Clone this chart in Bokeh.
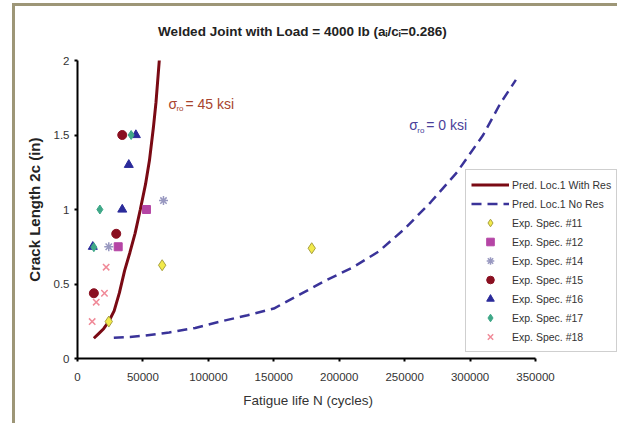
from bokeh.plotting import figure
from bokeh.models import Legend, LegendItem, Label, FixedTicker, BasicTickFormatter
from bokeh.embed import file_html
from bokeh.resources import INLINE

# Predicted curves
with_res_N = [12500, 16000, 20000, 24000, 28000, 32000, 36000, 40000, 44000, 48000, 52000, 55000, 58000, 60000, 62500]
with_res_a = [0.136, 0.165, 0.20, 0.25, 0.32, 0.44, 0.59, 0.71, 0.84, 1.00, 1.17, 1.33, 1.55, 1.72, 2.00]

no_res_N = [27750, 40000, 50000, 70000, 90000, 110000, 130000, 150000, 170000, 190000, 210000,
            230000, 250000, 270000, 290000, 310000, 323000, 335000]
no_res_a = [0.139, 0.145, 0.152, 0.175, 0.205, 0.25, 0.29, 0.335, 0.43, 0.525, 0.61,
            0.717, 0.87, 1.05, 1.25, 1.50, 1.71, 1.87]

# Experimental specimens
s11_N = [23900, 64700, 179000]
s11_a = [0.248, 0.626, 0.74]
s12_N = [52700, 31100]
s12_a = [1.0, 0.75]
s14_N = [65700, 23900]
s14_a = [1.06, 0.75]
s15_N = [34200, 29600, 12500]
s15_a = [1.5, 0.837, 0.438]
s16_N = [44600, 39200, 34200, 11700]
s16_a = [1.5, 1.30, 1.0, 0.75]
s17_N = [41000, 17100, 12500]
s17_a = [1.5, 1.0, 0.747]
s18_N = [21900, 20600, 14300, 11200]
s18_a = [0.613, 0.438, 0.378, 0.248]

x_ticks = [0, 50000, 100000, 150000, 200000, 250000, 300000, 350000]
y_ticks = [0, 0.5, 1, 1.5, 2]
y_tick_labels = ["0", "0.5", "1", "1.5", "2"]
x_axis_max = 350000
y_axis_max = 2

FONT = "Liberation Sans"

# axes occupy 458 x 298 px; the frame is extended right (legend) and up (title)
x_view_max = x_axis_max * 540 / 458
y_view_max = y_axis_max * 352 / 298

p = figure(width=605, height=420, output_backend="svg", toolbar_location=None,
           x_range=(0, x_view_max), y_range=(0, y_view_max),
           min_border_left=62, min_border_right=3, min_border_top=0, min_border_bottom=68,
           styles={"margin-left": "12px", "margin-top": "3px",
                   "border-left": "3px solid #9d9677", "border-top": "3px solid #9d9677"})

p.xgrid.visible = False
p.ygrid.visible = False
p.outline_line_color = None
p.background_fill_color = "white"

for ax in (p.xaxis[0], p.yaxis[0]):
    ax.axis_line_width = 2
    ax.axis_line_color = "black"
    ax.major_tick_line_width = 2
    ax.major_tick_line_color = "black"
    ax.major_tick_in = 0
    ax.major_tick_out = 3
    ax.minor_tick_line_color = None
    ax.major_label_text_font = FONT
    ax.major_label_text_font_size = "11.5px"
    ax.major_label_text_color = "#333333"
    ax.axis_label_text_font = FONT
    ax.axis_label_text_color = "#333333"

p.xaxis.ticker = FixedTicker(ticks=x_ticks)
p.xaxis.bounds = (0, x_axis_max)
p.xaxis.formatter = BasicTickFormatter(use_scientific=False)
p.xaxis.major_label_standoff = 11
# trailing no-break spaces keep the labels centred on the drawn axes, not the wider frame
p.xaxis.axis_label = "Fatigue life N (cycles)" + "\u00a0" * 21
p.xaxis.axis_label_text_font_size = "13.5px"
p.xaxis.axis_label_text_font_style = "normal"
p.xaxis.axis_label_standoff = 9

p.yaxis.ticker = FixedTicker(ticks=y_ticks)
p.yaxis.bounds = (0, y_axis_max)
p.yaxis.major_label_overrides = {t: l for t, l in zip(y_ticks, y_tick_labels)}
p.yaxis.major_label_standoff = 5
p.yaxis.axis_label = "Crack Length 2c (in)" + "\u00a0" * 13
p.yaxis.axis_label_text_font_size = "15px"
p.yaxis.axis_label_text_font_style = "bold"
p.yaxis.axis_label_text_color = "#222222"
p.yaxis.axis_label_standoff = 8

# chart title, placed above the drawn axes
p.add_layout(Label(x=171900, y=2.195, text="Welded Joint with Load = 4000 lb (a\u1d62/c\u1d62=0.286)",
                   text_font=FONT, text_font_size="13.5px", text_font_style="bold",
                   text_color="#222222", text_align="center", text_baseline="middle"))

r_with = p.line(with_res_N, with_res_a, line_color="#7a0a14", line_width=3)
r_no = p.line(no_res_N, no_res_a, line_color="#3a3399", line_width=2.5, line_dash="10 6")

styles = {
    "11": dict(marker="diamond", fill_color="#f2ea4a", line_color="#a8a040", line_width=1),
    "12": dict(marker="square", fill_color="#b545a5", line_color="#b545a5"),
    "14": dict(marker="asterisk", line_color="#9898c0", line_width=1.5),
    "15": dict(marker="circle", fill_color="#8a0f20", line_color="#8a0f20"),
    "16": dict(marker="triangle", fill_color="#2a2a9a", line_color="#2a2a9a"),
    "17": dict(marker="diamond", fill_color="#3fa888", line_color="#3fa888"),
    "18": dict(marker="x", line_color="#f08a98", line_width=1.5),
}
sizes = {"11": 11, "12": 8, "14": 9, "15": 9, "16": 9, "17": 9, "18": 9}
leg_sizes = {"11": 8, "12": 6, "14": 6, "15": 7, "16": 7, "17": 7, "18": 7}
data = {"11": (s11_N, s11_a), "12": (s12_N, s12_a), "14": (s14_N, s14_a), "15": (s15_N, s15_a),
        "16": (s16_N, s16_a), "17": (s17_N, s17_a), "18": (s18_N, s18_a)}

nan = float("nan")
items = [
    LegendItem(label="Pred. Loc.1 With Res", renderers=[r_with]),
    LegendItem(label="Pred. Loc.1 No Res", renderers=[r_no]),
]
for k in ["11", "12", "14", "15", "16", "17", "18"]:
    xs, ys = data[k]
    p.scatter(xs, ys, size=sizes[k], **styles[k])
    # legend swatch only (no visible point): smaller marker, as in the reference legend
    r_leg = p.scatter([nan], [nan], size=leg_sizes[k], **styles[k])
    items.append(LegendItem(label="Exp. Spec. #" + k, renderers=[r_leg]))

legend = Legend(items=items, location=(388, 6), orientation="vertical",
                label_text_font=FONT, label_text_font_size="10.5px", label_text_color="#333333",
                label_height=19, glyph_height=19, glyph_width=38, label_standoff=3,
                spacing=0, padding=5, margin=0,
                border_line_color="#a0a0a0", border_line_width=1.5,
                background_fill_color="white", background_fill_alpha=1)
p.add_layout(legend, "center")

# curve annotations
def sigma_label(x, y, rest, color):
    p.add_layout(Label(x=x, y=y, text="\u03c3", text_font=FONT, text_font_size="14px",
                       text_color=color, text_baseline="middle"))
    p.add_layout(Label(x=x, y=y, x_offset=8, y_offset=-5, text="ro", text_font=FONT,
                       text_font_size="8px", text_color=color, text_baseline="middle"))
    p.add_layout(Label(x=x, y=y, x_offset=17, text=rest, text_font=FONT, text_font_size="14px",
                       text_color=color, text_baseline="middle"))

sigma_label(69500, 1.71, "= 45 ksi", "#a8442e")
sigma_label(253500, 1.565, "= 0 ksi", "#4a3f9a")

open("out.html", "w").write(file_html(p, INLINE))
